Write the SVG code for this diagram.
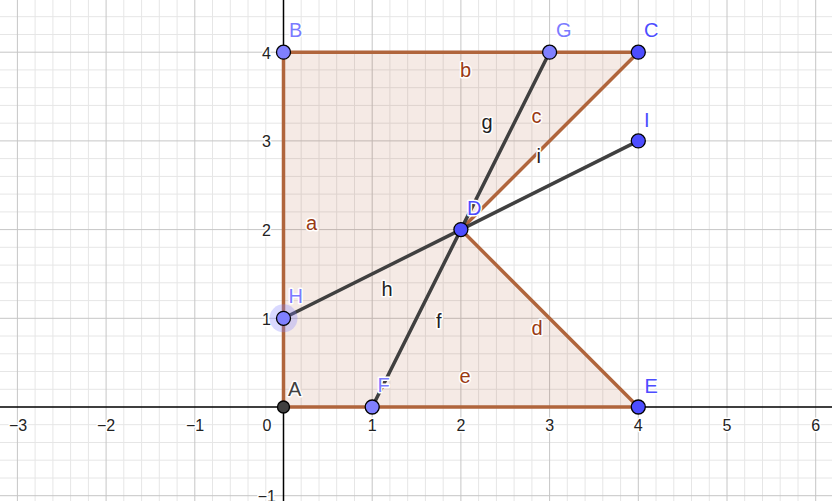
<svg xmlns="http://www.w3.org/2000/svg" width="832" height="501" viewBox="0 0 832 501">
<style>
.minor{stroke:#e6e6e6;stroke-width:1;fill:none}
.major{stroke:#c6c6c6;stroke-width:1;fill:none}
.axis{stroke:#000;stroke-width:1.5;fill:none}
.tick{font-family:"Liberation Sans",Arial,sans-serif;font-size:16px;fill:#222;stroke:#fff;stroke-width:3;paint-order:stroke;stroke-linejoin:round}
.edge{stroke:#b0653c;stroke-width:3.5;fill:none;stroke-linecap:round}
.seg{stroke:#404040;stroke-width:3.5;fill:none;stroke-linecap:round}
.lbl{font-family:"Liberation Sans",Arial,sans-serif;font-size:20px;stroke:#fff;stroke-width:3;paint-order:stroke;stroke-linejoin:round}
.br{fill:#9a3a12}
.bk{fill:#1e1e1e}
.pl{fill:#8080ff;stroke:#000;stroke-width:1.3}
.pd{fill:#4d4dff;stroke:#000;stroke-width:1.3}
.pa{fill:#404040;stroke:#000;stroke-width:1.3}
.tl{fill:#7b7bff}
.td{fill:#4d4dff}
.ta{fill:#404040}
</style>
<rect width="832" height="501" fill="#fff"/>
<g id="grid">
<path class="minor" d="M35.1 0V501M52.9 0V501M70.6 0V501M88.4 0V501M123.8 0V501M141.6 0V501M159.3 0V501M177.1 0V501M212.5 0V501M230.3 0V501M248 0V501M265.8 0V501M301.2 0V501M319 0V501M336.7 0V501M354.5 0V501M389.9 0V501M407.7 0V501M425.4 0V501M443.2 0V501M478.6 0V501M496.4 0V501M514.1 0V501M531.9 0V501M567.3 0V501M585.1 0V501M602.8 0V501M620.6 0V501M656 0V501M673.8 0V501M691.5 0V501M709.3 0V501M744.7 0V501M762.5 0V501M780.2 0V501M798 0V501"/>
<path class="minor" d="M0 478H832M0 460.2H832M0 442.5H832M0 424.7H832M0 389.3H832M0 371.5H832M0 353.8H832M0 336H832M0 300.6H832M0 282.8H832M0 265.1H832M0 247.3H832M0 211.9H832M0 194.1H832M0 176.4H832M0 158.6H832M0 123.2H832M0 105.4H832M0 87.7H832M0 69.9H832M0 34.5H832M0 16.7H832"/>
<path class="major" d="M17.4 0V501M106.1 0V501M194.8 0V501M372.2 0V501M460.9 0V501M549.6 0V501M638.3 0V501M727 0V501M815.7 0V501M0 495.7H832M0 318.3H832M0 229.6H832M0 140.9H832M0 52.2H832"/>
</g>
<g id="axes">
<path class="axis" d="M0 407H832M283.5 0V501"/>
<text class="tick" x="18" y="431" text-anchor="middle">−3</text>
<text class="tick" x="106" y="431" text-anchor="middle">−2</text>
<text class="tick" x="195" y="431" text-anchor="middle">−1</text>
<text class="tick" x="267" y="431" text-anchor="middle">0</text>
<text class="tick" x="372.2" y="431" text-anchor="middle">1</text>
<text class="tick" x="460.9" y="431" text-anchor="middle">2</text>
<text class="tick" x="549.6" y="431" text-anchor="middle">3</text>
<text class="tick" x="638.3" y="431" text-anchor="middle">4</text>
<text class="tick" x="727" y="431" text-anchor="middle">5</text>
<text class="tick" x="815.7" y="431" text-anchor="middle">6</text>
<text class="tick" x="271" y="58.5" text-anchor="end">4</text>
<text class="tick" x="271" y="147" text-anchor="end">3</text>
<text class="tick" x="271" y="235.8" text-anchor="end">2</text>
<text class="tick" x="271" y="324.5" text-anchor="end">1</text>
<text class="tick" x="276" y="502" text-anchor="end">−1</text>
</g>
<g id="polygon">
<polygon points="283.5,407 283.5,52.2 638.3,52.2 460.9,229.6 638.3,407" fill="#993300" fill-opacity="0.1"/>
</g>
<g id="connectors">
<line id="a" class="edge" x1="283.5" y1="407" x2="283.5" y2="52.2"/>
<line id="b" class="edge" x1="283.5" y1="52.2" x2="638.3" y2="52.2"/>
<line id="c" class="edge" x1="638.3" y1="52.2" x2="460.9" y2="229.6"/>
<line id="d" class="edge" x1="460.9" y1="229.6" x2="638.3" y2="407"/>
<line id="e" class="edge" x1="638.3" y1="407" x2="283.5" y2="407"/>
<line id="f" class="seg" x1="372.2" y1="407" x2="460.9" y2="229.6"/>
<line id="g" class="seg" x1="460.9" y1="229.6" x2="549.6" y2="52.2"/>
<line id="h" class="seg" x1="283.5" y1="318.3" x2="460.9" y2="229.6"/>
<line id="i" class="seg" x1="460.9" y1="229.6" x2="638.3" y2="140.9"/>
</g>
<g id="nodeH">
<circle cx="283.5" cy="318.3" r="14" fill="#8080ff" fill-opacity="0.3"/>
<circle class="pl" cx="283.5" cy="318.3" r="7"/>
</g>
<g id="nodeA"><circle class="pa" cx="283.5" cy="407" r="6"/></g>
<g id="nodeB"><circle class="pl" cx="283.5" cy="52.2" r="7"/></g>
<g id="nodeG"><circle class="pl" cx="549.6" cy="52.2" r="7"/></g>
<g id="nodeC"><circle class="pd" cx="638.3" cy="52.2" r="7"/></g>
<g id="nodeI"><circle class="pd" cx="638.3" cy="140.9" r="7"/></g>
<g id="nodeD"><circle class="pd" cx="460.9" cy="229.6" r="7"/></g>
<g id="nodeF"><circle class="pl" cx="372.2" cy="407" r="7"/></g>
<g id="nodeE"><circle class="pd" cx="638.3" cy="407" r="7"/></g>
<g id="labels">
<text class="lbl tl" x="289" y="36.5">B</text>
<text class="lbl tl" x="556" y="36.5">G</text>
<text class="lbl td" x="644" y="36.5">C</text>
<text class="lbl td" x="644" y="126.5">I</text>
<text class="lbl td" x="467" y="215">D</text>
<text class="lbl tl" x="288.5" y="302.5">H</text>
<text class="lbl ta" x="288" y="396">A</text>
<text class="lbl tl" x="377.5" y="391.5">F</text>
<text class="lbl td" x="644.5" y="393">E</text>
<text class="lbl br" x="306" y="230">a</text>
<text class="lbl br" x="460" y="77">b</text>
<text class="lbl br" x="531.5" y="123">c</text>
<text class="lbl br" x="531.5" y="335">d</text>
<text class="lbl br" x="459.5" y="383">e</text>
<text class="lbl bk" x="436" y="328">f</text>
<text class="lbl bk" x="481.5" y="129">g</text>
<text class="lbl bk" x="381.5" y="296">h</text>
<text class="lbl bk" x="536.5" y="163">i</text>
</g>
</svg>
